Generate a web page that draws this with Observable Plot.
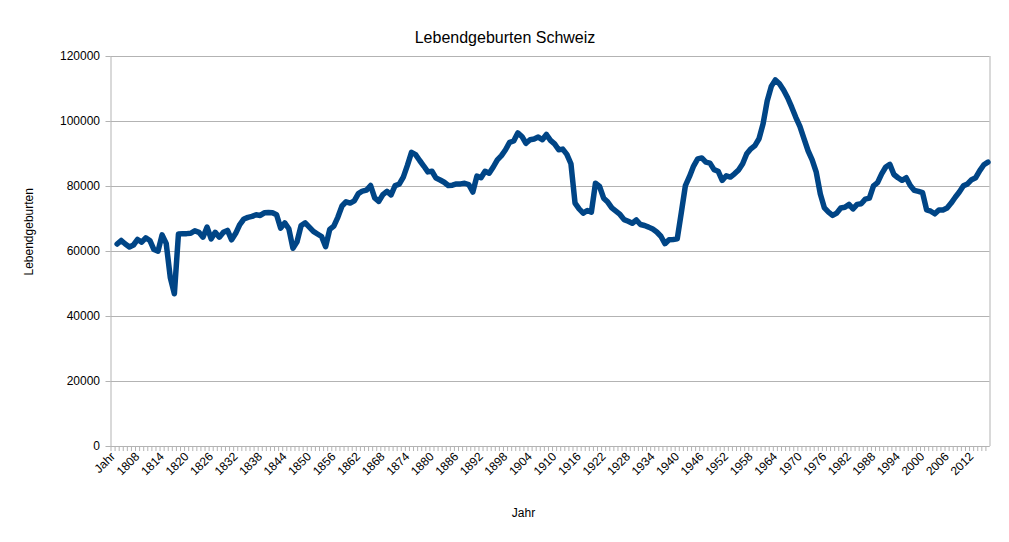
<!DOCTYPE html>
<html><head><meta charset="utf-8">
<script src="https://cdn.jsdelivr.net/npm/d3@7"></script>
<script src="https://cdn.jsdelivr.net/npm/@observablehq/plot@0.6"></script>
<style>body{margin:0;background:#fff;} svg{display:block;}</style>
</head><body><div id="chart"></div>
<script>
const title = "Lebendgeburten Schweiz";
const xTitle = "Jahr";
const yTitle = "Lebendgeburten";
const firstCategory = "Jahr";
const firstYear = 1803;
// Lebendgeburten 1803–2016
const births = [
  62300, 63400, 62300, 61400, 62000, 63700, 62900,                 // 1803-1809
  64200, 63400, 60600, 60100, 65100, 62500, 52000, 47000, 65400, 65500, // 1810-1819
  65500, 65600, 66400, 65900, 64400, 67500, 63900, 65900, 64400, 65900, // 1820-1829
  66500, 63600, 65600, 68300, 70000, 70500, 70800, 71300, 71100, 71900, // 1830-1839
  72000, 71900, 71300, 67200, 68800, 67000, 61000, 63000, 68000, 68800, // 1840-1849
  67500, 66200, 65400, 64600, 61500, 66800, 67800, 70600, 74000, 75300, // 1850-1859
  74900, 75600, 77800, 78600, 78900, 80300, 76500, 75400, 77500, 78500, // 1860-1869
  77400, 80300, 80700, 82900, 86500, 90500, 89800, 88000, 86300, 84500, // 1870-1879
  84700, 82600, 82000, 81300, 80300, 80400, 80800, 80800, 81000, 80600, // 1880-1889
  78300, 83200, 82700, 84700, 84100, 86000, 88200, 89500, 91300, 93600, // 1890-1899
  94000, 96500, 95400, 93300, 94400, 94600, 95200, 94400, 96000, 94200, // 1900-1909
  93100, 91300, 91500, 89900, 87000, 74900, 73100, 71800, 72600, 72100, // 1910-1919
  81000, 80000, 76400, 75200, 73400, 72400, 71400, 69800, 69300, 68700, // 1920-1929
  69700, 68300, 68000, 67500, 66900, 66000, 64700, 62400, 63600, 63700, // 1930-1939
  63900, 72000, 80300, 83100, 86300, 88500, 88800, 87500, 87200, 85200, // 1940-1949
  84700, 81900, 83300, 82900, 83900, 85100, 87000, 90100, 91600, 92600, // 1950-1959
  94700, 99300, 106300, 110800, 112800, 111600, 109700, 107300, 104400, 101300, // 1960-1969
  98500, 94700, 91000, 88200, 84400, 77700, 73400, 72100, 71100, 71800, // 1970-1979
  73400, 73600, 74500, 73100, 74500, 74700, 76100, 76400, 80200, 81200, // 1980-1989
  83900, 86000, 86800, 83700, 82700, 81900, 82700, 80300, 78800, 78500, // 1990-1999
  78100, 72800, 72400, 71600, 72800, 72800, 73400, 74900, 76700, 78300, // 2000-2009
  80200, 80800, 82100, 82700, 84900, 86700, 87500                        // 2010-2016
];
const yTicks = [0, 20000, 40000, 60000, 80000, 100000, 120000];
const xTickLabels = ["Jahr","1808","1814","1820","1826","1832","1838","1844","1850","1856",
  "1862","1868","1874","1880","1886","1892","1898","1904","1910","1916","1922","1928","1934",
  "1940","1946","1952","1958","1964","1970","1976","1982","1988","1994","2000","2006","2012"];

const years = births.map((_, i) => String(firstYear + i));
const categories = [firstCategory, ...years];
const data = years.map((y, i) => ({year: y, births: births[i]}));

const W = 1009, H = 542, mL = 110.5, mR = 19.5, mT = 56, mB = 96;
const step = (W - mL - mR) / categories.length;
const grey = "#b3b3b3";
const frameCx = (mL + W - mR) / 2;
const frameCy = (mT + H - mB) / 2;

const chart = Plot.plot({
  width: W, height: H,
  marginLeft: mL, marginRight: mR, marginTop: mT, marginBottom: mB,
  style: {fontFamily: "'Liberation Sans', Arial, sans-serif", fontSize: "12px", color: "#000", background: "#fff"},
  x: {type: "point", domain: categories, padding: 0.5, round: false},
  y: {domain: [0, 120000]},
  marks: [
    Plot.gridY(yTicks, {stroke: grey, strokeOpacity: 1}),
    Plot.ruleX([categories[0]], {dx: -step / 2, stroke: grey}),
    Plot.ruleX([categories[categories.length - 1]], {dx: step / 2, stroke: grey}),
    Plot.axisX(categories, {tickSize: 5, tickFormat: () => "", dx: -step / 2, stroke: grey, label: null}),
    Plot.axisX(xTickLabels, {tickSize: 0, tickRotate: -45, tickPadding: 8, fontSize: 12, label: null}),
    Plot.axisY(yTicks, {tickSize: 5, tickPadding: 6, stroke: grey, fontSize: 12, tickFormat: d => String(d), label: null}),
    Plot.ruleY([0], {stroke: grey}),
    Plot.lineY(data, {x: "year", y: "births", stroke: "#004586", strokeWidth: 5.5,
      strokeLinejoin: "round", strokeLinecap: "round"}),
    Plot.text([title], {frameAnchor: "top", dx: W / 2 - frameCx, dy: -25, fontSize: 16}),
    Plot.text([xTitle], {frameAnchor: "bottom", dx: 523 - frameCx, dy: 70, fontSize: 12}),
    Plot.text([yTitle], {frameAnchor: "left", dx: -82, dy: 275 - frameCy, rotate: -90, fontSize: 12})
  ]
});
document.getElementById("chart").appendChild(chart);
</script>
</body></html>
